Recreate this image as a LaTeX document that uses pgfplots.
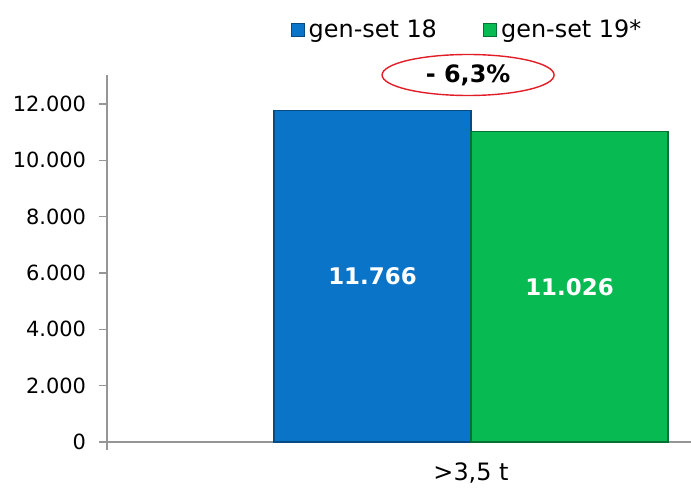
\documentclass[border=0pt]{standalone}
\usepackage{fontspec}
\setmainfont{DejaVu Sans}
\usepackage{pgfplots}
\pgfplotsset{compat=1.18}
\usetikzlibrary{shapes.geometric}
\definecolor{barblue}{RGB}{10,116,200}
\definecolor{bargreen}{RGB}{8,186,82}
\definecolor{axgray}{RGB}{150,150,150}
\definecolor{ellred}{RGB}{225,30,40}
\newcommand\catlabel{>3,5 t}
\begin{document}
\begin{tikzpicture}
\begin{axis}[
  scale only axis, width=292bp, height=183.5bp,
  xmin=-0.5, xmax=0.3022, ymin=0, ymax=13030,
  clip=false,
  axis x line*=bottom, axis y line*=left,
  axis line style={axgray, line width=0.6bp},
  tick align=outside, major tick length=4bp,
  ytick={0,2000,4000,6000,8000,10000,12000},
  scaled y ticks=false,
  ytick style={axgray, line width=0.6bp},
  /pgf/number format/1000 sep={.},
  /pgf/number format/assume math mode=true,
  yticklabel style={font=\fontsize{10.5}{12}\selectfont, xshift=-3bp},
  xtick={0}, xticklabels={\catlabel},
  xtick style={draw=none},
  xticklabel style={font=\fontsize{12}{14}\selectfont, yshift=-3bp},
  extra x ticks={-0.5}, extra x tick labels={},
  extra x tick style={xtick style={draw=axgray, line width=0.6bp}},
  legend style={at={(0.618,1.123)}, anchor=center, draw=none, fill=none,
    legend columns=2, font=\fontsize{12}{14}\selectfont,
    /tikz/every even column/.append style={column sep=21bp},
    legend cell align=left},
  legend image code/.code={\fill[#1] (0bp,-3.25bp) rectangle (6.5bp,3.25bp);},
]
\addplot[ybar, bar width=0.2706, bar shift=0pt, fill=barblue, draw=barblue!65!black, line width=0.6bp]
  coordinates {(-0.1353,11766)};
\addlegendentry{gen-set 18}
\addplot[ybar, bar width=0.2706, bar shift=0pt, fill=bargreen, draw=bargreen!60!black, line width=0.6bp]
  coordinates {(0.1353,11026)};
\addlegendentry{gen-set 19*}
\addplot[draw=none, mark=none, nodes near coords, point meta=explicit symbolic,
  every node near coord/.append style={anchor=center, text=white,
    font=\bfseries\fontsize{11.5}{13}\selectfont}]
  coordinates {(-0.1353,5883)[11.766] (0.1353,5513)[11.026]};
\node[draw=ellred, line width=0.7bp, ellipse, minimum width=86bp, minimum height=20.5bp,
  inner sep=0pt, font=\bfseries\fontsize{12}{14}\selectfont]
  at (axis cs:-0.004,13030) {- 6,3\%};
\end{axis}
\pgfresetboundingbox
\path ([xshift=-53.5bp, yshift=-29.5bp]current axis.south west) rectangle ([yshift=37.5bp]current axis.north east);
\end{tikzpicture}
\end{document}
